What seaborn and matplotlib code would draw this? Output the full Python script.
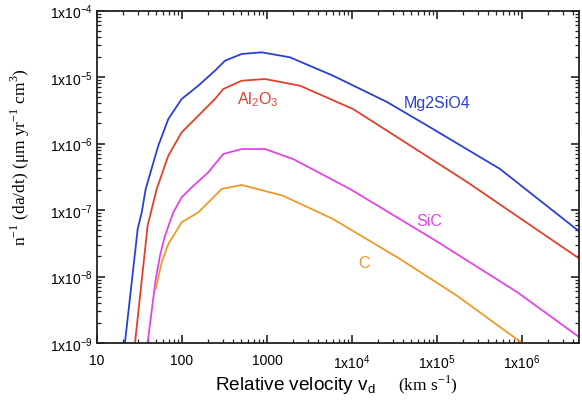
import numpy as np
import pandas as pd
import matplotlib
matplotlib.use("Agg")
import matplotlib.pyplot as plt
import seaborn as sns
from matplotlib.ticker import LogLocator, NullFormatter

# ---- data ----
mg_v = [21.3, 30.1, 33.6, 37.4, 52.6, 69.0, 99.1, 155.6, 244.3, 320.6, 503.5, 867, 1866, 5970, 25820, 89740, 550800, 4.81e6]
mg_r = [1.0e-9, 5.18e-8, 9.23e-8, 2.07e-7, 9.27e-7, 2.33e-6, 4.67e-6, 7.40e-6, 1.245e-5, 1.758e-5, 2.22e-5, 2.35e-5, 1.977e-5, 1.047e-5, 4.21e-6, 1.652e-6, 4.14e-7, 4.67e-8]

al_v = [28.0, 39.4, 44.1, 50.4, 69.0, 99.1, 155.6, 244.3, 306.2, 503.5, 946, 2443, 10280, 36730, 225400, 4.81e6]
al_r = [1.0e-9, 5.81e-8, 1.035e-7, 2.07e-7, 6.56e-7, 1.472e-6, 2.62e-6, 4.67e-6, 6.61e-6, 8.79e-6, 9.33e-6, 7.40e-6, 3.30e-6, 1.169e-6, 2.64e-7, 1.832e-8]

sic_v = [39.4, 49.1, 55.1, 63.1, 79.1, 99.1, 124.2, 203.7, 306.2, 503.5, 946, 2023, 9462, 89740, 873000, 4.81e6]
sic_r = [1.0e-9, 9.16e-9, 2.06e-8, 4.11e-8, 9.23e-8, 1.552e-7, 2.07e-7, 3.69e-7, 6.95e-7, 8.26e-7, 8.26e-7, 5.85e-7, 2.07e-7, 3.66e-8, 5.85e-9, 1.20e-9]

c_v = [49.1, 57.7, 69.0, 99.1, 155.6, 293.1, 503.5, 1542, 5970, 36730, 171800, 1.0e6]
c_r = [6.49e-9, 1.637e-8, 3.08e-8, 6.53e-8, 9.23e-8, 2.07e-7, 2.38e-7, 1.64e-7, 7.33e-8, 1.832e-8, 5.14e-9, 1.0e-9]

species = ["Mg2SiO4", "Al2O3", "SiC", "C"]
colors = ["#2b3fd6", "#e3402c", "#e444e6", "#ec9a28"]

x_ticks = [10, 100, 1000, 1e4, 1e5, 1e6]
x_ticklabels = ["10", "100", "1000", r"1x10$^{\mathregular{4}}$", r"1x10$^{\mathregular{5}}$", r"1x10$^{\mathregular{6}}$"]
y_ticks = [1e-9, 1e-8, 1e-7, 1e-6, 1e-5, 1e-4]
y_ticklabels = [r"1x10$^{\mathregular{-9}}$", r"1x10$^{\mathregular{-8}}$", r"1x10$^{\mathregular{-7}}$",
                r"1x10$^{\mathregular{-6}}$", r"1x10$^{\mathregular{-5}}$", r"1x10$^{\mathregular{-4}}$"]

frames = []
for name, v, r in [("Mg2SiO4", mg_v, mg_r), ("Al2O3", al_v, al_r), ("SiC", sic_v, sic_r), ("C", c_v, c_r)]:
    frames.append(pd.DataFrame({"v": v, "rate": r, "species": name}))
df = pd.concat(frames, ignore_index=True)

# ---- style ----
sns.set_style("ticks")
plt.rcParams["font.family"] = ["Liberation Sans", "DejaVu Sans"]
plt.rcParams["mathtext.fontset"] = "custom"
plt.rcParams["mathtext.rm"] = "Liberation Sans"
plt.rcParams["text.color"] = "black"
plt.rcParams["axes.labelcolor"] = "black"
plt.rcParams["xtick.labelcolor"] = "black"
plt.rcParams["ytick.labelcolor"] = "black"

fig = plt.figure(figsize=(5.82, 4.02), dpi=100)
ax = fig.add_axes([97 / 582, 1 - 344 / 402, (579 - 97) / 582, (344 - 11.5) / 402])

sns.lineplot(data=df, x="v", y="rate", hue="species", hue_order=species,
             palette=dict(zip(species, colors)), sort=False, estimator=None,
             units="species", legend=False, linewidth=1.3, ax=ax)

ax.set_xscale("log")
ax.set_yscale("log")
ax.set_xlim(10, 10 ** (1 + 482 / 85))
ax.set_ylim(1e-9, 1e-4)

ax.set_xticks(x_ticks)
ax.set_xticklabels(x_ticklabels)
ax.set_yticks(y_ticks)
ax.set_yticklabels(y_ticklabels)
ax.xaxis.set_minor_locator(LogLocator(base=10, subs=np.arange(2, 10), numticks=20))
ax.yaxis.set_minor_locator(LogLocator(base=10, subs=np.arange(2, 10), numticks=20))
ax.xaxis.set_minor_formatter(NullFormatter())
ax.yaxis.set_minor_formatter(NullFormatter())

ax.tick_params(which="both", direction="in", top=True, right=True, color="#222222")
ax.tick_params(which="major", length=6, width=1.2)
ax.tick_params(which="minor", length=3, width=0.9)
ax.tick_params(axis="x", which="major", labelsize=10, pad=7, labelcolor="black")
ax.tick_params(axis="y", which="major", labelsize=10, pad=3, labelcolor="black")
for s in ax.spines.values():
    s.set_linewidth(1.3)
    s.set_color("#222222")

ax.set_xlabel("")
ax.set_ylabel(r"n$^{\mathregular{-1}}$ (da/dt) (μm yr$^{\mathregular{-1}}$ cm$^{\mathregular{3}}$)",
              family=["Liberation Serif", "DejaVu Serif"], fontsize=12.5, color="black")
ax.yaxis.set_label_coords(-0.135, 0.562)

fig.text(215 / 582, 1 - 390.5 / 402, r"Relative velocity v$_{\mathregular{d}}$",
         fontsize=13.7, ha="left", va="baseline", color="black")
fig.text(398 / 582, 1 - 390.5 / 402, r"(km s$^{\mathregular{-1}}$)",
         family=["Liberation Serif", "DejaVu Serif"], fontsize=12.5, ha="left", va="baseline",
         color="black")

# curve labels
ax.text(1.0e5, 10 ** -5.38, "Mg2SiO4", color=colors[0], fontsize=11.5, ha="center", va="center")
ax.text(10 ** 2.894, 10 ** -5.33, r"Al$_{\mathregular{2}}$O$_{\mathregular{3}}$", color=colors[1],
        fontsize=11.5, ha="center", va="center")
ax.text(10 ** 4.906, 10 ** -7.16, "SiC", color=colors[2], fontsize=11.5, ha="center", va="center")
ax.text(10 ** 4.14, 10 ** -7.79, "C", color=colors[3], fontsize=11.5, ha="center", va="center")

fig.savefig("out.png", dpi=100)
